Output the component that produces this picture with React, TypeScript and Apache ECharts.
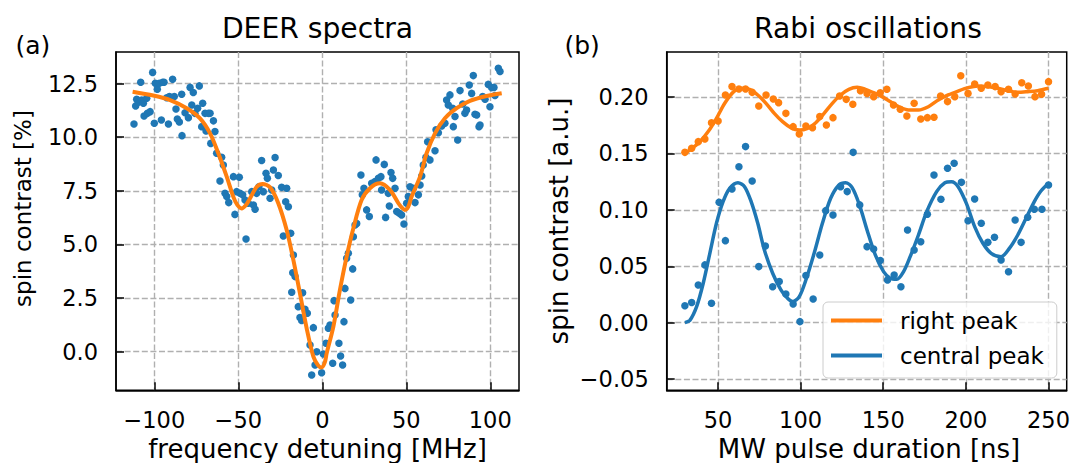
import React, { useEffect, useRef } from 'react';
import * as echarts from 'echarts';

const FONT = 'DejaVu Sans';
const BLUE = '#1f77b4';
const ORANGE = '#ff7f0e';

// ---- Panel (a): DEER spectra ----
const deerData: [number, number][] = [
  [-112.1, 10.61], [-111.1, 11.45], [-110.5, 11.77], [-109.5, 11.63], [-108.1, 12.56], [-107.5, 11.73],
  [-106.5, 11.58], [-106.1, 10.99], [-104.5, 11.81], [-104.1, 11.11], [-102.5, 11.19], [-101.0, 13.02],
  [-100.0, 10.65], [-99.4, 12.51], [-98.2, 12.23], [-97.0, 12.51], [-95.8, 10.8], [-95.0, 12.56],
  [-94.2, 12.56], [-92.6, 11.84], [-91.6, 10.61], [-91.0, 11.89], [-89.1, 12.7], [-88.1, 11.89],
  [-87.1, 11.31], [-86.3, 10.85], [-85.1, 10.71], [-83.7, 12.0], [-83.5, 10.07], [-81.7, 11.14],
  [-79.7, 10.91], [-78.7, 12.32], [-77.7, 11.5], [-76.8, 12.08], [-75.8, 11.11], [-74.2, 11.35],
  [-73.2, 12.39], [-71.8, 10.49], [-71.2, 11.58], [-69.8, 11.11], [-69.2, 10.29], [-67.8, 11.11],
  [-66.8, 11.11], [-66.4, 9.71], [-64.8, 10.76], [-63.9, 10.26], [-62.9, 9.25], [-60.9, 7.96],
  [-59.9, 9.06], [-58.9, 8.7], [-57.9, 7.38], [-56.9, 7.23], [-55.7, 6.95], [-52.9, 8.16],
  [-52.0, 6.4], [-51.0, 7.46], [-49.4, 8.13], [-49.0, 7.38], [-47.4, 7.31], [-46.0, 7.07],
  [-45.4, 5.25], [-44.0, 6.92], [-42.0, 7.46], [-41.0, 6.84], [-40.0, 6.64], [-39.1, 7.38],
  [-37.7, 7.69], [-36.1, 8.91], [-35.1, 7.46], [-33.5, 8.32], [-32.7, 8.08], [-31.1, 7.15],
  [-30.1, 7.54], [-29.1, 8.47], [-28.1, 9.05], [-26.2, 8.21], [-24.2, 7.66], [-23.2, 5.39],
  [-21.8, 6.99], [-21.2, 7.62], [-20.2, 6.76], [-18.8, 5.52], [-17.2, 4.51], [-17.6, 3.68],
  [-16.2, 3.5], [-18.2, 2.77], [-11.7, 2.75], [-14.3, 2.1], [-10.3, 1.98], [-13.3, 1.59],
  [-12.3, 1.45], [-8.9, 1.79], [-5.3, 1.12], [-7.3, 0.31], [-3.3, 0.0], [-4.3, -0.62],
  [-6.3, -1.09],
  [-0.4, -0.98], [0.6, -0.11], [2.2, 0.39], [3.6, 1.09], [4.6, 1.24], [6.2, -0.54],
  [7.0, 2.38], [7.6, 1.71], [9.9, 0.39], [10.9, -0.2], [12.1, -0.62], [12.9, 1.4],
  [13.5, 2.95], [16.9, 2.41], [18.1, 3.86], [14.5, 4.35], [15.5, 4.59], [18.5, 5.36],
  [19.5, 5.91], [20.5, 5.98], [23.0, 8.24], [23.8, 7.31], [24.8, 7.62], [26.4, 6.61],
  [28.0, 6.3], [29.4, 7.85], [31.4, 7.93], [32.0, 8.94], [33.4, 8.08], [34.9, 8.16],
  [35.3, 7.54], [36.9, 8.73], [37.7, 6.26], [39.3, 7.38], [39.9, 6.79], [40.9, 8.35],
  [41.9, 8.08], [43.3, 7.62], [44.3, 6.53], [45.9, 6.45], [47.2, 6.37], [48.6, 5.95],
  [50.2, 6.92], [51.2, 7.23], [52.2, 7.69], [54.2, 7.62], [55.2, 6.95], [57.2, 7.31],
  [58.2, 7.77], [59.2, 8.19], [60.1, 8.7], [61.7, 9.06], [62.7, 9.79], [64.1, 8.94],
  [67.1, 9.37], [67.7, 10.34], [69.1, 10.21], [71.1, 10.52], [73.0, 10.65], [74.0, 11.73],
  [75.0, 11.5], [76.0, 11.97], [77.6, 11.35], [78.0, 10.49], [79.0, 10.96], [80.6, 9.87],
  [82.0, 12.17], [83.6, 11.55], [84.9, 11.11], [85.9, 11.27], [87.5, 12.43], [88.9, 12.04],
  [89.9, 12.87], [90.9, 11.07], [91.9, 11.03], [93.3, 10.49], [93.9, 10.57], [95.5, 11.89],
  [96.9, 11.77], [98.8, 12.46], [99.8, 11.42], [100.8, 12.31], [102.2, 12.32], [102.8, 11.94],
  [104.8, 13.21], [105.8, 13.06],
];

const deerFit: [number, number][] = [
  [-112.9, 12.12], [-100.6, 11.94], [-90.6, 11.73], [-80.7, 11.35], [-72.8, 10.88], [-66.8, 10.18],
  [-61.9, 9.25], [-56.9, 8.16], [-53.0, 7.23], [-50.6, 6.84], [-48.0, 6.68], [-45.4, 6.84],
  [-43.0, 7.15], [-39.0, 7.69], [-35.5, 7.82], [-31.1, 7.66], [-26.2, 6.92], [-21.2, 5.67],
  [-17.2, 4.27], [-13.3, 2.72], [-9.3, 1.09], [-5.3, -0.23], [-2.5, -0.64], [-0.5, -0.74],
  [1.5, -0.5], [2.6, -0.08], [6.6, 1.17], [10.5, 2.88], [14.5, 4.43], [18.5, 5.75],
  [23.4, 7.07], [28.4, 7.62], [34.3, 7.85], [40.3, 7.54], [45.3, 6.92], [47.2, 6.73],
  [49.2, 6.61], [51.2, 6.76], [53.2, 7.23], [58.2, 8.16], [62.1, 9.25], [67.1, 10.18],
  [73.0, 10.88], [80.0, 11.35], [87.9, 11.69], [97.8, 11.92], [106.8, 12.05],
];

const deerXTicks = [-100, -50, 0, 50, 100];
const deerYTicks = [0, 2.5, 5, 7.5, 10, 12.5];

// ---- Panel (b): Rabi oscillations ----
const rightPeakData: [number, number][] = [
  [30, 0.151], [34.1, 0.1546], [38.1, 0.1605], [42.1, 0.1629], [46.1, 0.1773], [50.1, 0.1788],
  [54.5, 0.2019], [58.5, 0.2093], [62.7, 0.2072], [66.7, 0.2072], [70.7, 0.2042], [74.7, 0.1921],
  [79.1, 0.2019], [83.5, 0.1983], [86.7, 0.1951], [91.1, 0.1856], [95.5, 0.1738], [99.2, 0.1673],
  [103.2, 0.1744], [107.2, 0.1729], [111.6, 0.1827], [115.6, 0.1753], [119.6, 0.1818], [123.6, 0.201],
  [127.6, 0.198], [131.6, 0.1936], [136.2, 0.2057], [140.2, 0.2033], [144.2, 0.2004], [148.2, 0.2039],
  [152.2, 0.2069], [156.2, 0.193], [160.3, 0.1892], [164.3, 0.1833], [168.7, 0.1945], [172.7, 0.1806],
  [176.7, 0.1818], [180.7, 0.1821], [184.7, 0.201], [188.9, 0.196], [193.3, 0.2004], [196.9, 0.219],
  [201.3, 0.2033], [205.3, 0.2116], [209.3, 0.2078], [213.3, 0.2107], [217.7, 0.2093], [221.3, 0.2048],
  [225.8, 0.2069], [229.8, 0.2028], [233.8, 0.2128], [237.8, 0.2099], [241.8, 0.2004], [245.8, 0.2025],
  [250.0, 0.2137],
];

const centralPeakData: [number, number][] = [
  [30, 0.015], [34.1, 0.0178], [38.1, 0.0334], [42.1, 0.0512], [46.1, 0.0172], [50.7, 0.1067],
  [54.5, 0.0727], [58.5, 0.1185], [62.7, 0.1383], [66.7, 0.1561], [70.7, 0.1256], [74.7, 0.0497],
  [78.7, 0.068], [83.1, 0.0319], [87.1, 0.0364], [91.1, 0.0254], [95.5, 0.0166], [99.6, 0.0009],
  [103.2, 0.0417], [107.6, 0.021], [111.6, 0.06], [115.2, 0.0993], [119.6, 0.0955], [124.2, 0.1206],
  [128.2, 0.1162], [131.8, 0.151], [135.8, 0.1044], [140.2, 0.0674], [144.2, 0.0653], [148.2, 0.055],
  [152.6, 0.0378], [156.6, 0.0423], [160.7, 0.0319], [164.7, 0.0822], [168.7, 0.0644], [172.7, 0.0718],
  [176.7, 0.0961], [180.7, 0.1309], [184.9, 0.1094], [188.9, 0.1369], [192.9, 0.1413], [197.3, 0.1244],
  [201.3, 0.0904], [205.3, 0.1097], [209.3, 0.0881], [213.3, 0.0712], [217.3, 0.0757], [221.3, 0.0556],
  [225.8, 0.0452], [229.8, 0.091], [233.4, 0.0712], [237.4, 0.0934], [241.4, 0.1005], [246.0, 0.1005],
  [250.0, 0.1221],
];

const rightPeakFit: [number, number][] = [
  [30, 0.15], [33, 0.1531], [39.1, 0.1605], [44.1, 0.1694], [49.1, 0.1812], [54.1, 0.1945],
  [59.1, 0.2042], [64.1, 0.2078], [69.1, 0.2069], [74.1, 0.2019], [79.1, 0.1945], [84.1, 0.1856],
  [89.1, 0.1782], [94.1, 0.1729], [99.2, 0.1708], [104.2, 0.1723], [109.2, 0.1773], [114.2, 0.1856],
  [119.2, 0.1945], [124.2, 0.2019], [129.2, 0.2069], [134.2, 0.2087], [139.2, 0.2069], [144.2, 0.2039],
  [149.2, 0.2004], [154.2, 0.196], [159.3, 0.1915], [165.3, 0.1886], [171.3, 0.1886], [177.3, 0.1915],
  [183.3, 0.1974], [189.3, 0.2019], [195.3, 0.2054], [201.3, 0.2084], [207.3, 0.2099], [213.3, 0.2093],
  [219.3, 0.2078], [225.4, 0.2057], [231.4, 0.2042], [237.4, 0.2048], [243.4, 0.2057], [250, 0.2078],
];

const centralPeakFit: [number, number][] = [
  [30, 0.0], [33, 0.002], [37.1, 0.0142], [41.1, 0.0349], [45.1, 0.0615], [49.1, 0.0881],
  [53.1, 0.1073], [57.1, 0.1191], [62.1, 0.1241], [66.1, 0.1206], [70.1, 0.1073], [74.1, 0.0881],
  [78.1, 0.0645], [83.1, 0.0438], [88.1, 0.029], [92.1, 0.0216], [95.2, 0.0187], [99.2, 0.0231],
  [103.2, 0.0378], [108.2, 0.0615], [113.2, 0.0881], [118.2, 0.1103], [123.2, 0.1221], [127.2, 0.1241],
  [131.2, 0.1197], [135.6, 0.1044], [140.2, 0.0822], [145.2, 0.06], [150.2, 0.0452], [154.2, 0.0393],
  [158.2, 0.0384], [162.3, 0.0452], [166.3, 0.0585], [171.3, 0.0777], [176.3, 0.0984], [182.3, 0.1162],
  [187.3, 0.1241], [191.3, 0.125], [195.3, 0.1206], [200.3, 0.1058], [205.3, 0.0852], [210.3, 0.0704],
  [215.3, 0.0615], [221.3, 0.0585], [226.3, 0.0659], [231.4, 0.0777], [236.4, 0.0925], [241.4, 0.1073],
  [245.4, 0.1167], [250, 0.1236],
];

const rabiXTicks = [50, 100, 150, 200, 250];
const rabiYTicks = [-0.05, 0, 0.05, 0.1, 0.15, 0.2];

const minus = (s: string) => s.replace('-', '\u2212');

function valueAxis(gridIndex: number, min: number, max: number, ticks: number[], fmt: (v: number) => string) {
  return {
    type: 'value',
    gridIndex,
    min,
    max,
    axisLine: { show: true, onZero: false, lineStyle: { color: '#000', width: 1.5 } },
    axisTick: { show: true, inside: true, length: 8, customValues: ticks, lineStyle: { color: '#000', width: 1.5 } },
    axisLabel: {
      show: true,
      customValues: ticks,
      formatter: (v: number) => fmt(v),
      color: '#000',
      fontSize: 22.5,
      fontFamily: FONT,
      margin: 18,
    },
    splitLine: { show: true, lineStyle: { color: '#b0b0b0', width: 1.4, type: [6, 2.6] } },
  };
}

function label(text: string, x: number, y: number, size: number, align = 'center', rotation = 0) {
  return {
    type: 'text',
    x,
    y,
    rotation,
    silent: true,
    style: {
      text,
      fill: '#000',
      fontSize: size,
      fontFamily: FONT,
      align,
      verticalAlign: 'middle',
      textAlign: align,
      textVerticalAlign: 'middle',
    },
  };
}

export default function App() {
  const ref = useRef<HTMLDivElement>(null);
  useEffect(() => {
    if (!ref.current) return;
    const chart = echarts.init(ref.current, null, { renderer: 'svg' });
    const option: any = {
      animation: false,
      backgroundColor: '#fff',
      textStyle: { fontFamily: FONT },
      grid: [
        { left: 116, top: 52, width: 403, height: 338.3, show: true, borderColor: '#000', borderWidth: 1.5, backgroundColor: 'transparent' },
        { left: 666.7, top: 52, width: 402.6, height: 338.3, show: true, borderColor: '#000', borderWidth: 1.5, backgroundColor: 'transparent' },
      ],
      xAxis: [
        valueAxis(0, -122.8, 117.1, deerXTicks, (v) => minus(String(v))),
        valueAxis(1, 19, 261, rabiXTicks, (v) => String(v)),
      ],
      yAxis: [
        valueAxis(0, -1.8, 13.97, deerYTicks, (v) => minus(v.toFixed(1))),
        valueAxis(1, -0.06, 0.24, rabiYTicks, (v) => minus(v.toFixed(2))),
      ],
      legend: {
        data: ['right peak', 'central peak'],
        orient: 'vertical',
        left: 823,
        top: 302,
        padding: [7, 13, 11, 8],
        itemGap: 12,
        itemWidth: 51,
        itemHeight: 4,
        icon: 'rect',
        selectedMode: false,
        backgroundColor: 'rgba(255,255,255,0.8)',
        borderColor: '#cccccc',
        borderWidth: 1,
        borderRadius: 5,
        textStyle: { fontSize: 23, fontFamily: FONT, color: '#000', padding: [0, 0, 0, 13] },
      },
      series: [
        {
          name: 'DEER data', type: 'scatter', xAxisIndex: 0, yAxisIndex: 0, data: deerData,
          symbolSize: 7.5, itemStyle: { color: BLUE, opacity: 1 }, z: 2,
        },
        {
          name: 'DEER fit', type: 'line', xAxisIndex: 0, yAxisIndex: 0, data: deerFit,
          showSymbol: false, symbol: 'none', smooth: 0.3, color: ORANGE,
          lineStyle: { color: ORANGE, width: 4 }, z: 3,
        },
        {
          name: 'right peak data', type: 'scatter', xAxisIndex: 1, yAxisIndex: 1, data: rightPeakData,
          symbolSize: 7.5, itemStyle: { color: ORANGE, opacity: 1 }, z: 2,
        },
        {
          name: 'central peak data', type: 'scatter', xAxisIndex: 1, yAxisIndex: 1, data: centralPeakData,
          symbolSize: 7.5, itemStyle: { color: BLUE, opacity: 1 }, z: 2,
        },
        {
          name: 'right peak', type: 'line', xAxisIndex: 1, yAxisIndex: 1, data: rightPeakFit,
          showSymbol: false, symbol: 'none', smooth: 0.3, color: ORANGE,
          lineStyle: { color: ORANGE, width: 3.5 }, itemStyle: { color: ORANGE }, z: 3,
        },
        {
          name: 'central peak', type: 'line', xAxisIndex: 1, yAxisIndex: 1, data: centralPeakFit,
          showSymbol: false, symbol: 'none', smooth: 0.3, color: BLUE,
          lineStyle: { color: BLUE, width: 3.5 }, itemStyle: { color: BLUE }, z: 3,
        },
      ],
      graphic: [
        label('DEER spectra', 317.5, 28, 28.2),
        label('Rabi oscillations', 868, 28, 28.2),
        label('(a)', 15.5, 45, 25, 'left'),
        label('(b)', 564.5, 45, 25, 'left'),
        label('spin contrast [%]', 23, 208.5, 23, 'center', Math.PI / 2),
        label('spin contrast [a.u.]', 559, 221, 26, 'center', Math.PI / 2),
        label('frequency detuning [MHz]', 317.5, 449, 26),
        label('MW pulse duration [ns]', 869, 449, 26),
      ],
    };
    chart.setOption(option);
    return () => chart.dispose();
  }, []);
  return (
    <div
      ref={ref}
      style={{ position: 'fixed', left: 0, top: 0, width: 1073, height: 463, background: '#fff' }}
    />
  );
}
